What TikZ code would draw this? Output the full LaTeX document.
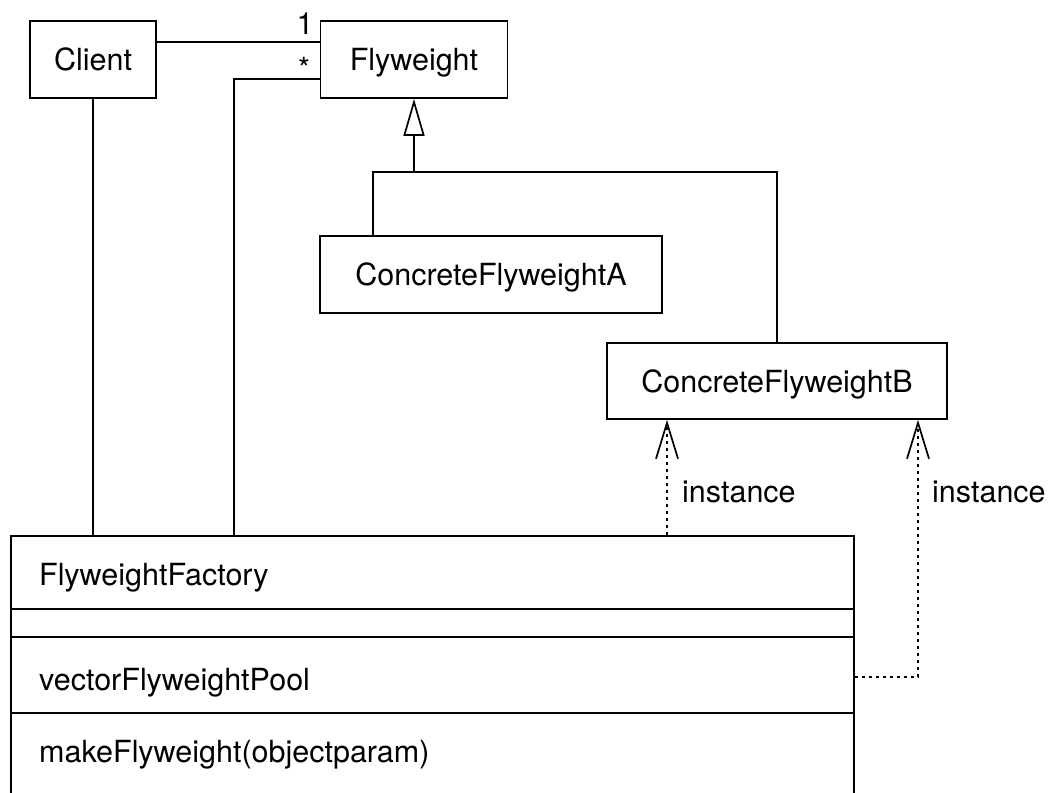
\documentclass[tikz,border=0pt]{standalone}
\usepackage{fontspec}
\setmainfont{TeX Gyre Heros}
\usetikzlibrary{arrows.meta}
\tikzset{
  classbox/.style={draw, line width=1.7pt, inner sep=0pt, text depth=0pt, font=\fontsize{30.5}{36}\selectfont},
  link/.style={line width=1.7pt},
  dep/.style={line width=1.7pt, dash pattern=on 3pt off 4pt,
    -{Straight Barb[length=36pt,width=22pt,line width=1.7pt]}},
  txt/.style={font=\fontsize{30.5}{36}\selectfont, inner sep=0pt}
}
\begin{document}
\begin{tikzpicture}[x=1pt,y=-1pt]
	\useasboundingbox (0,0) rectangle (1051,792);
	\clip (0,0) rectangle (1051,792);
	
	\node[classbox, minimum width=126pt, minimum height=77pt] (client) at (93,59.5) {Client};
	\node[classbox, minimum width=187pt, minimum height=77pt] (fly) at (414,59.5) {Flyweight};
	\node[classbox, minimum width=342pt, minimum height=77pt] (cfa) at (491,274.5) {ConcreteFlyweightA};
	\node[classbox, minimum width=340pt, minimum height=76pt] (cfb) at (777,381) {ConcreteFlyweightB};
	
	%factory
	\node[classbox, anchor=north west, minimum width=843pt, minimum height=300pt] (factory) at (10,535) {};
	\draw[link] (10,609) -- (853,609);
	\draw[link] (10,637) -- (853,637);
	\draw[link] (10,713) -- (853,713);
	\node[txt, anchor=west] (fname) at (39,578) {FlyweightFactory};
	\node[txt, anchor=west] (fpool) at (39,683) {vectorFlyweightPool};
	\node[txt, anchor=west] (fmake) at (39,755) {makeFlyweight(objectparam)};
	
	\draw[link] ([yshift=17.5pt]client.east) -- ([yshift=17.5pt]client.east -| fly.west);
	\node[txt] (one) at (305,24) {1};
	\node[txt] (many) at (304,68) {*};
	\draw[link] ([yshift=-19.5pt]fly.west) -| ([xshift=224pt]factory.north west);
	\draw[link] (client.south) -- (client.south |- factory.north);
	
	%generalisation
	\coordinate (joint) at (414,172);
	\draw[link] ([xshift=-118pt]cfa.north) |- (cfb.north |- joint) -- (cfb.north);
	\draw[link, -{Triangle[open,length=37pt,width=21pt,line width=1.7pt]}] (joint) -- (fly.south);
	
	%instance
	\coordinate (d1) at ([xshift=657pt]factory.north west);
	\coordinate (d2) at (918,677);
	\draw[dep] (d1) -- (d1 |- cfb.south);
	\draw[dep] (factory.east |- d2) -| (d2 |- cfb.south);
	\node[txt, anchor=west] (inst1) at (682,492) {instance};
	\node[txt, anchor=west] (inst2) at (932,492) {instance};
\end{tikzpicture}
\end{document}
